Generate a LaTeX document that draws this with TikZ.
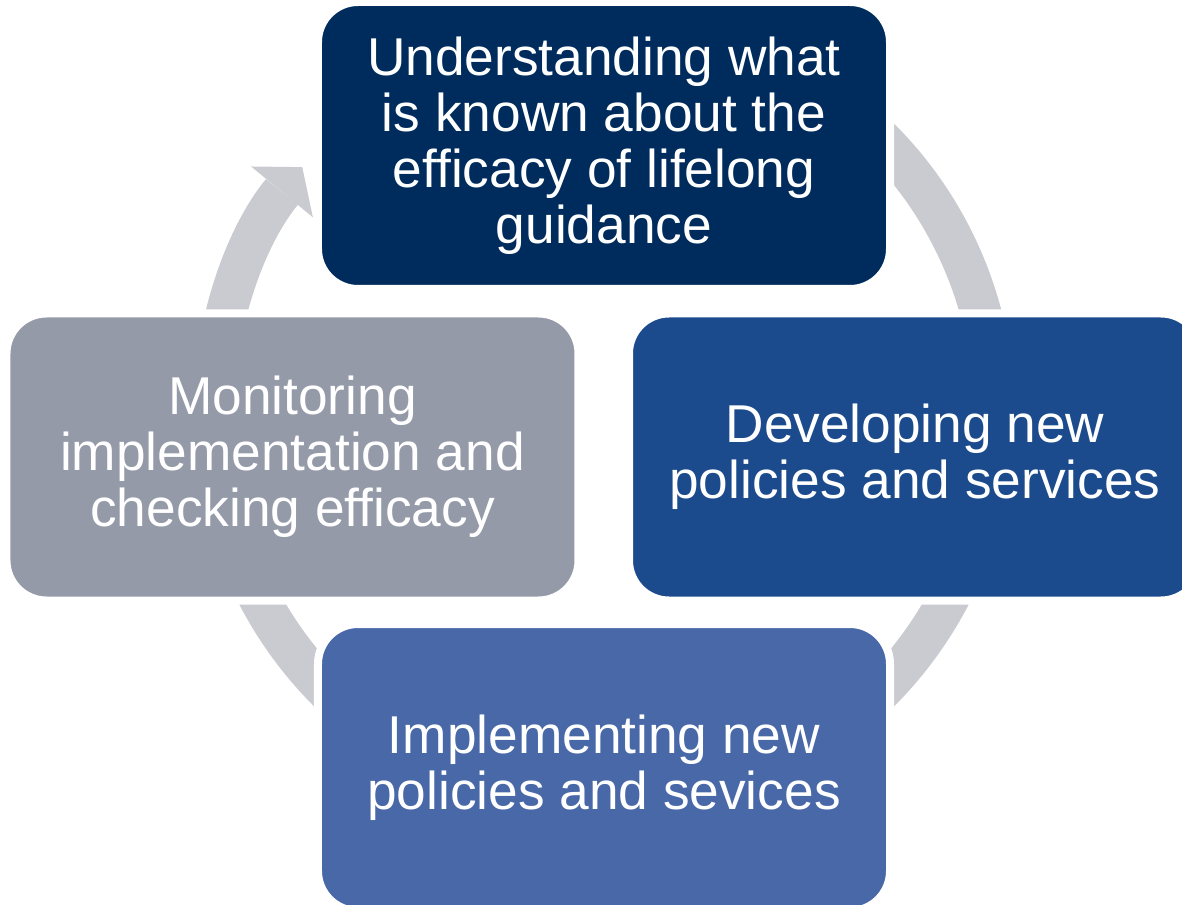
\documentclass[tikz,border=0pt]{standalone}
\usepackage{fontspec}
\setmainfont{Liberation Sans}
\usetikzlibrary{arrows.meta}

\definecolor{navy}{RGB}{0,44,93}
\definecolor{royal}{RGB}{27,75,140}
\definecolor{steel}{RGB}{72,104,168}
\definecolor{slate}{RGB}{149,154,169}
\definecolor{track}{RGB}{202,203,208}

\tikzset{
  stage/.style={draw=white, line width=0.16cm, rounded corners=0.8cm,
    minimum width=11.44cm, minimum height=5.74cm, align=center,
    text=white, font=\fontsize{30.3pt}{31.9pt}\selectfont},
  ring/.style={draw=track, line width=0.82cm}
}

\begin{document}
\begin{tikzpicture}
\useasboundingbox (-12.08,-9.80) rectangle (11.56,8.30);
\coordinate (hub) at (0,0);
% grey cycle track, running clockwise back into the first stage
\draw[ring, -{Triangle[width=1.6cm, length=0.64cm, line width=0pt]}]
  (hub) ++(60:7.81) arc[start angle=60, end angle=-219.4, radius=7.81];
\node[stage, fill=navy] (stage1) at (0,5.39) {Understanding what\\ is known about the\\ efficacy of lifelong\\ guidance};
\node[stage, fill=royal] (stage2) at (6.22,-0.84) {Developing new\\ policies and services};
\node[stage, fill=steel] (stage3) at (0,-7.05) {Implementing new\\ policies and sevices};
\node[stage, fill=slate] (stage4) at (-6.23,-0.84) {Monitoring\\ implementation and\\ checking efficacy};
\end{tikzpicture}
\end{document}
